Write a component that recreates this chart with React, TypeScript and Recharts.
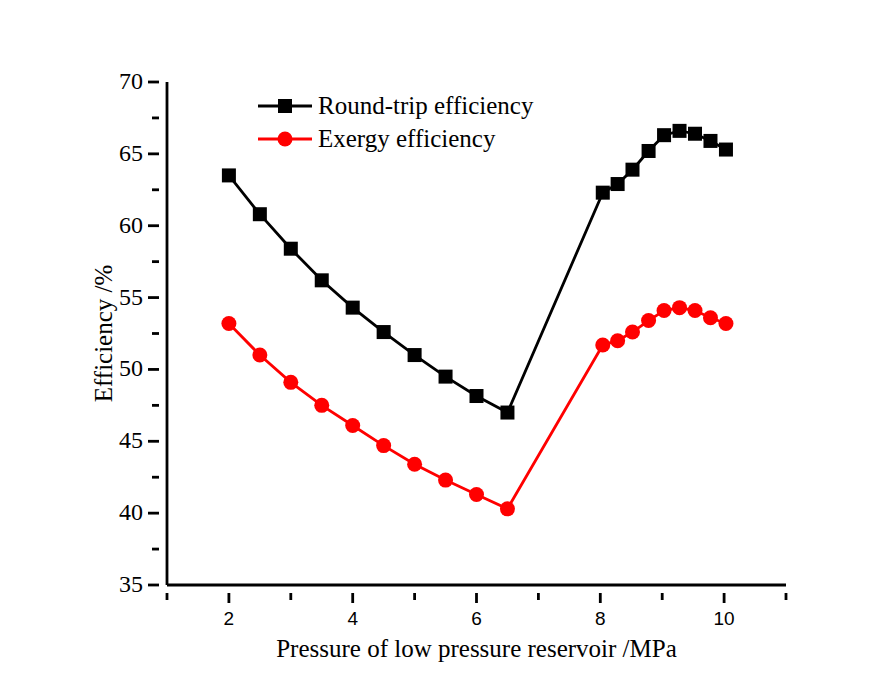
import { LineChart, Line, XAxis, YAxis, Legend } from "recharts";

// Pressure of the low pressure reservoir (MPa)
const pressure = [2, 2.5, 3, 3.5, 4, 4.5, 5, 5.5, 6, 6.5, 8.04, 8.28, 8.52, 8.78, 9.03, 9.28, 9.53, 9.78, 10.03];
const roundTrip = [63.5, 60.8, 58.4, 56.2, 54.3, 52.6, 51.0, 49.5, 48.15, 47.0, 62.3, 62.9, 63.9, 65.2, 66.3, 66.6, 66.4, 65.9, 65.3];
const exergy = [53.2, 51.0, 49.1, 47.5, 46.1, 44.7, 43.4, 42.3, 41.3, 40.3, 51.7, 52.0, 52.6, 53.4, 54.1, 54.3, 54.1, 53.6, 53.2];

const xTicks = [1, 2, 3, 4, 5, 6, 7, 8, 9, 10, 11];
const xLabels = [2, 4, 6, 8, 10];
const yTicks = [35, 37.5, 40, 42.5, 45, 47.5, 50, 52.5, 55, 57.5, 60, 62.5, 65, 67.5, 70];
const yLabels = [35, 40, 45, 50, 55, 60, 65, 70];

const data = pressure.map((p, i) => ({ p, roundTrip: roundTrip[i], exergy: exergy[i] }));

const FONT = "'Liberation Serif', 'Times New Roman', serif";
const SANS = "'Liberation Sans', Arial, sans-serif";

// minor ticks are shorter and carry no label
const XTick = (props: any) => {
  const { x, y, payload } = props;
  const major = xLabels.includes(payload.value);
  return (
    <g>
      <line x1={x} y1={y} x2={x} y2={y + (major ? 10 : 7)} stroke="#000" strokeWidth={2.8} />
      {major && (
        <text x={x} y={y + 32} textAnchor="middle" fontSize={19} fontFamily={SANS} fill="#000">
          {payload.value}
        </text>
      )}
    </g>
  );
};

const YTick = (props: any) => {
  const { x, y, payload } = props;
  const major = yLabels.includes(payload.value);
  return (
    <g>
      <line x1={x} y1={y} x2={x - (major ? 11 : 7)} y2={y} stroke="#000" strokeWidth={2.8} />
      {major && (
        <text x={x - 16} y={y + 7} textAnchor="end" fontSize={24} fontFamily={FONT} fill="#000">
          {payload.value}
        </text>
      )}
    </g>
  );
};

const Square = (props: any) => {
  const { cx, cy, index } = props;
  return <rect key={index} x={cx - 7} y={cy - 7} width={14} height={14} fill="#000" />;
};

const Circle = (props: any) => {
  const { cx, cy, index } = props;
  return <circle key={index} cx={cx} cy={cy} r={7.5} fill="#ff0000" />;
};

const LegendBox = () => (
  <svg width={300} height={70} style={{ overflow: "visible" }}>
    <line x1={0} y1={12} x2={54} y2={12} stroke="#000" strokeWidth={2.8} />
    <rect x={20} y={5} width={14} height={14} fill="#000" />
    <text x={60} y={20} fontSize={25} fontFamily={FONT} fill="#000">Round-trip efficiency</text>
    <line x1={0} y1={45} x2={54} y2={45} stroke="#ff0000" strokeWidth={2.8} />
    <circle cx={27} cy={45} r={7.5} fill="#ff0000" />
    <text x={60} y={53} fontSize={25} fontFamily={FONT} fill="#000">Exergy efficiency</text>
  </svg>
);

export default function App() {
  return (
    <div style={{ position: "absolute", left: 0, top: 0, background: "#fff" }}>
      <LineChart width={894} height={697} data={data} margin={{ top: 82, right: 108, left: 67, bottom: 52 }}>
        <XAxis
          dataKey="p"
          type="number"
          domain={[1, 11]}
          ticks={xTicks}
          interval={0}
          height={60}
          axisLine={{ stroke: "#000", strokeWidth: 2.8 }}
          tickLine={false}
          tick={<XTick />}
          label={{ value: "Pressure of low pressure reservoir /MPa", position: "insideBottom", offset: -12, fontSize: 25, fontFamily: FONT, fill: "#000" }}
        />
        <YAxis
          type="number"
          domain={[35, 70]}
          ticks={yTicks}
          interval={0}
          width={100}
          axisLine={{ stroke: "#000", strokeWidth: 2.8 }}
          tickLine={false}
          tick={<YTick />}
          label={{ value: "Efficiency /%", angle: -90, position: "insideLeft", offset: 36, fontSize: 25, fontFamily: FONT, fill: "#000", style: { textAnchor: "middle" } }}
        />
        <Legend
          layout="horizontal"
          verticalAlign="middle"
          align="center"
          content={<LegendBox />}
          wrapperStyle={{ left: 258, top: 94, width: 300 }}
        />
        <Line type="linear" dataKey="roundTrip" name="Round-trip efficiency" stroke="#000" strokeWidth={2.8} dot={<Square />} isAnimationActive={false} />
        <Line type="linear" dataKey="exergy" name="Exergy efficiency" stroke="#ff0000" strokeWidth={2.8} dot={<Circle />} isAnimationActive={false} />
      </LineChart>
    </div>
  );
}
